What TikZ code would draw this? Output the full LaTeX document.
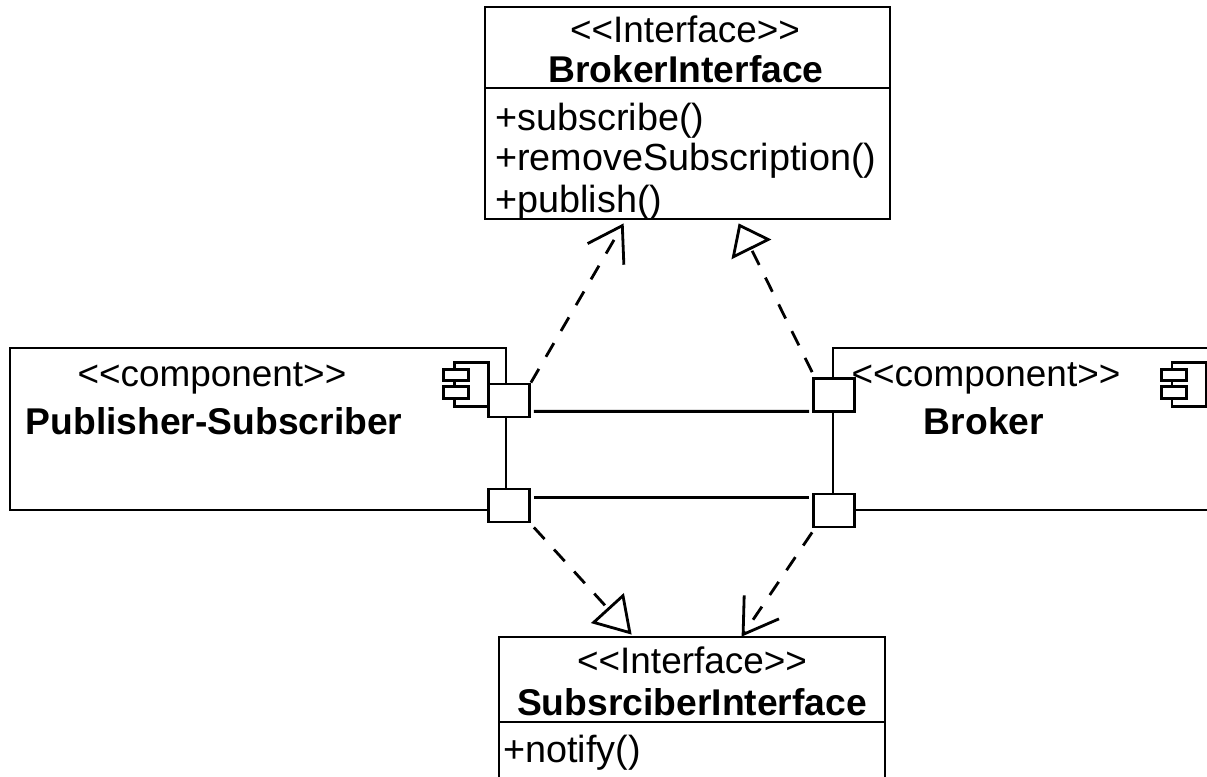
\documentclass[tikz,border=0pt]{standalone}
\usepackage{fontspec}
\setmainfont{Liberation Sans}
\usetikzlibrary{arrows.meta}

\tikzset{
  umlbox/.style={draw, line width=1.6pt, inner sep=0pt},
  port/.style={draw, fill=white, line width=1.6pt, inner sep=0pt, minimum width=0.82cm, minimum height=0.66cm},
  iconbar/.style={draw, fill=white, line width=1.5pt, inner sep=0pt, minimum width=0.5cm, minimum height=0.23cm},
  iconbody/.style={draw, line width=1.5pt, inner sep=0pt, minimum width=0.68cm, minimum height=0.88cm},
  label/.style={font=\fontsize{21.5}{25}\selectfont, inner sep=0pt},
  stereo/.style={font=\fontsize{21}{25}\selectfont, inner sep=0pt},
  bold/.style={font=\fontsize{21.2}{25}\selectfont\bfseries, inner sep=0pt},
  dep/.style={line width=1.6pt, dash pattern=on 9pt off 8pt},
  link/.style={line width=1.6pt},
  opentip/.style={-{Straight Barb[length=0.66cm, width=0.84cm, line width=1.6pt]}},
  realizetip/.style={-{Triangle[open, length=#1, width=0.88cm, line width=1.6pt, fill=white]}}
}

\begin{document}
\begin{tikzpicture}[x=0.02cm, y=-0.02cm]
  \useasboundingbox (0,0) rectangle (1207,777);

  \node[umlbox, minimum width=8.1cm, minimum height=1.62cm] at (687.5,47.5) (brokerhead) {};
  \node[umlbox, minimum width=8.1cm, minimum height=2.62cm] at (687.5,153.5) (brokerops) {};
  \node[stereo] at (685,29) (brokerstereo) {{<}{<}Interface{>}{>}};
  \node[bold] at (686,69) (brokername) {BrokerInterface};
  \node[label, anchor=base west] at (495,131) (subscribe) {+subscribe()};
  \node[label, anchor=base west] at (495,171) (remove) {+removeSubscription()};
  \node[label, anchor=base west] at (495,212) (publish) {+publish()};

  \node[umlbox, minimum width=7.72cm, minimum height=1.7cm] at (692,679.5) (subhead) {};
  \node[umlbox, minimum width=7.72cm, minimum height=1.6cm] at (692,762) (subops) {};
  \node[stereo] at (692,660) (substereo) {{<}{<}Interface{>}{>}};
  \node[bold] at (692,702) (subname) {SubsrciberInterface};
  \node[label, anchor=base west] at (503,762) (notify) {+notify()};

  \node[umlbox, minimum width=9.92cm, minimum height=3.24cm] at (258,429) (pubcomp) {};
  \node[umlbox, minimum width=8cm, minimum height=3.24cm] at (1033,429) (brokercomp) {};
  \node[stereo] at (212,378) (pubstereo) {{<}{<}component{>}{>}};
  \node[bold] at (214,421) (pubname) {Publisher-Subscriber};
  \node[stereo] at (986,378) (compstereo) {{<}{<}component{>}{>}};
  \node[bold] at (984,421) (compname) {Broker};

  \node[iconbody] at (471.5,384.5) (pubicon) {};
  \node[iconbar] at (456,375) (pubbar1) {};
  \node[iconbar] at (456,392.5) (pubbar2) {};
  \node[iconbody] at (1189,384.5) (compicon) {};
  \node[iconbar] at (1174,375) (compbar1) {};
  \node[iconbar] at (1174,392.5) (compbar2) {};

  \node[port] at (509,400.5) (pubport1) {};
  \node[port] at (509,505.5) (pubport2) {};
  \node[port] at (834,395) (compport1) {};
  \node[port] at (834,510.5) (compport2) {};

  \draw[link] ([shift={(3,-7)}]pubport1.south east) -- ([shift={(-3,-1.5)}]compport1.south west);
  \draw[link] ([shift={(3,9.6)}]pubport2.north east) -- ([shift={(-3,4.6)}]compport2.north west);

  \draw[dep, opentip] (pubport1.north east) -- ([shift={(140,3)}]brokerops.south west);
  \draw[dep, realizetip=0.58cm] ([shift={(0,-5)}]compport1.north west) -- ([shift={(255,3)}]brokerops.south west);
  \draw[dep, realizetip=0.72cm] ([shift={(3,4)}]pubport2.south east) -- ([shift={(134,-1)}]subhead.north west);
  \draw[dep, opentip] ([shift={(0,4)}]compport2.south west) -- ([shift={(244,1)}]subhead.north west);
\end{tikzpicture}
\end{document}
